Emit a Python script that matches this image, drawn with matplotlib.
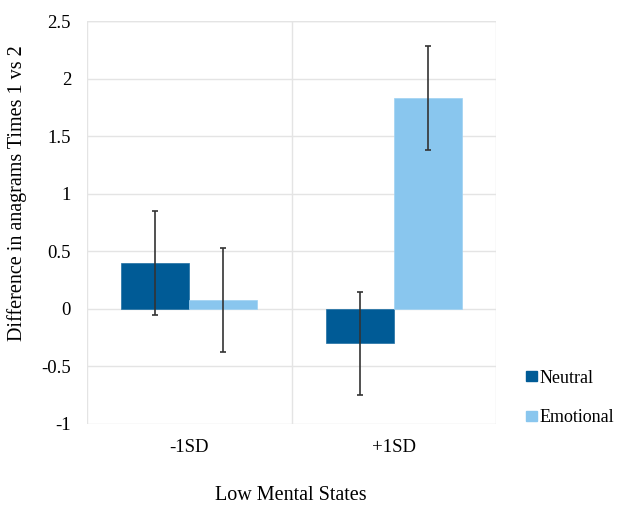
import numpy as np
import matplotlib.pyplot as plt
from matplotlib.patches import Patch

categories = ["-1SD", "+1SD"]
neutral = [0.40, -0.30]
emotional = [0.075, 1.83]
neutral_err = [0.45, 0.45]
emotional_err = [0.45, 0.45]

NAVY, SKY = "#005B96", "#89C6EE"
GRID = "#E4E4E4"

plt.rcParams["font.family"] = ["Liberation Serif", "DejaVu Serif"]

fig = plt.figure(figsize=(6.17, 5.07), dpi=100)
ax = fig.add_axes([87 / 617, 1 - 424 / 507, (496 - 87) / 617, (424 - 21) / 507])

x = np.arange(len(categories))
w = 1 / 3
ax.bar(x - w / 2, neutral, w, color=NAVY, edgecolor="#1f6fa3", linewidth=0.5, zorder=2)
ax.bar(x + w / 2, emotional, w, color=SKY, edgecolor="#9fd2f3", linewidth=0.5, zorder=2)
err_kw = dict(fmt="none", ecolor="#333333", elinewidth=1.2, capsize=2.5, capthick=1.2, zorder=3)
ax.errorbar(x - w / 2, neutral, yerr=neutral_err, **err_kw)
ax.errorbar(x + w / 2, emotional, yerr=emotional_err, **err_kw)

ax.set_xlim(-0.5, 1.5)
ax.set_ylim(-1, 2.5)
ax.set_yticks(np.arange(-1, 2.51, 0.5))
ax.set_yticklabels(["-1", "-0.5", "0", "0.5", "1", "1.5", "2", "2.5"])
ax.set_xticks(x)
ax.set_xticklabels(categories)
ax.tick_params(length=0, labelsize=13.5)
ax.tick_params(axis="y", pad=11.5)
ax.tick_params(axis="x", pad=11)

ax.grid(axis="y", color=GRID, linewidth=1, zorder=0)
for xv in [-0.5, 0.5, 1.5]:
    ax.axvline(xv, color=GRID, linewidth=1, zorder=0)
for s in ax.spines.values():
    s.set_visible(False)
ax.axhline(2.5, color=GRID, linewidth=1, zorder=0)

fig.text(17 / 617, 1 - 193 / 507, "Difference in anagrams Times 1 vs 2", fontsize=14.5,
         rotation=90, ha="center", va="center")
fig.text(291 / 617, 1 - 496 / 507, "Low Mental States", fontsize=14.5, ha="center", va="center")

handles = [Patch(color=NAVY, label="Neutral"), Patch(color=SKY, label="Emotional")]
fig.legend(handles=handles, loc="center left", bbox_to_anchor=(526 / 617, 1 - 398 / 507),
           frameon=False, fontsize=13, handlelength=0.6, handleheight=0.45,
           handletextpad=0.15, labelspacing=1.25, borderpad=0, borderaxespad=0)

fig.savefig("out.png", dpi=100)
